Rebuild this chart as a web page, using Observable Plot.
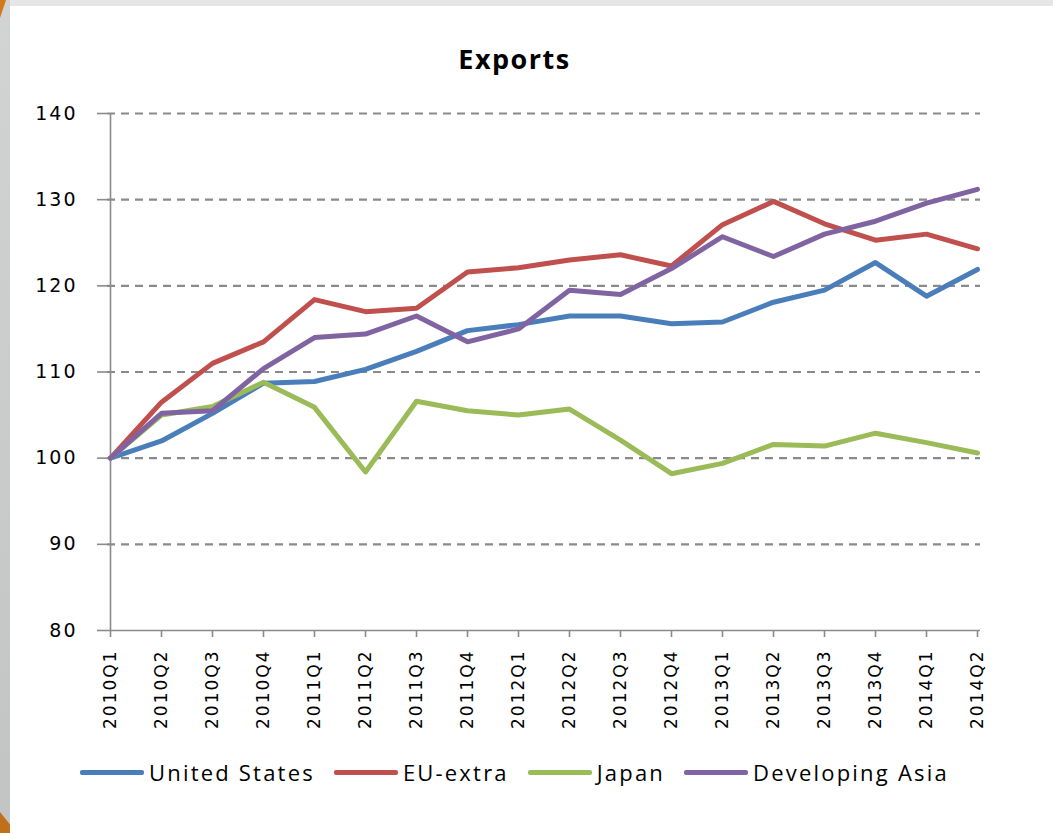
<!DOCTYPE html>
<html>
<head>
<meta charset="utf-8">
<script src="https://cdn.jsdelivr.net/npm/d3@7"></script>
<script src="https://cdn.jsdelivr.net/npm/@observablehq/plot@0.6"></script>
<style>
  html, body { margin: 0; padding: 0; }
  body { width: 1053px; height: 833px; position: relative; overflow: hidden; background: linear-gradient(to bottom, #d2d4d4, #c2c4c4); }
  #topband { position: absolute; left: 10px; top: 0; width: 1043px; height: 6px; background: #e6e6e6; }
  #orange1 { position: absolute; left: 0; top: 0; width: 6px; height: 18px; background: #d07a1c; clip-path: polygon(0 0, 100% 0, 0 100%); }
  #orange2 { position: absolute; left: 0; top: 812px; width: 10px; height: 21px; background: #c0701a; clip-path: polygon(0 0, 100% 60%, 100% 100%, 0 100%); }
  #panel { position: absolute; left: 10px; top: 6px; width: 1043px; height: 827px; background: #fff; }
  #title { position: absolute; left: -12px; width: 1053px; top: 40px; text-align: center; font-family: "Open Sans", sans-serif; font-weight: 700; font-size: 27px; letter-spacing: 1.5px; color: #000; }
  #chart { position: absolute; left: 0; top: 95px; }
  #legend { position: absolute; left: 80px; top: 757px; display: flex; align-items: center; font-family: "Open Sans", sans-serif; font-size: 22px; letter-spacing: 2.2px; color: #000; }
  .item { display: flex; align-items: center; margin-right: 19px; }
  .sw { display: inline-block; width: 64px; height: 5px; border-radius: 2px; margin-right: 5px; }
</style>
</head>
<body>
<div id="topband"></div>
<div id="orange1"></div>
<div id="orange2"></div>
<div id="panel"></div>
<div id="title">Exports</div>
<div id="chart"></div>
<div id="legend"></div>
<script>
const quarters = ["2010Q1","2010Q2","2010Q3","2010Q4","2011Q1","2011Q2","2011Q3","2011Q4","2012Q1","2012Q2","2012Q3","2012Q4","2013Q1","2013Q2","2013Q3","2013Q4","2014Q1","2014Q2"];
const seriesNames = ["United States","EU-extra","Japan","Developing Asia"];
const seriesColors = ["#4a7ebb","#c0504d","#9bbb59","#8064a2"];
const unitedStates = [100,102.0,105.2,108.7,108.9,110.3,112.4,114.8,115.5,116.5,116.5,115.6,115.8,118.1,119.5,122.7,118.8,121.9];
const euExtra = [100,106.5,111.0,113.5,118.4,117.0,117.4,121.6,122.1,123.0,123.6,122.3,127.1,129.8,127.2,125.3,126.0,124.3];
const japan = [100,105.0,106.0,108.8,105.9,98.4,106.6,105.5,105.0,105.7,102.1,98.2,99.4,101.6,101.4,102.9,101.8,100.6];
const developingAsia = [100,105.2,105.5,110.4,114.0,114.4,116.5,113.5,115.0,119.5,119.0,122.0,125.7,123.4,126.0,127.5,129.6,131.2];
const yTicks = [80,90,100,110,120,130,140];

const seriesValues = [unitedStates, euExtra, japan, developingAsia];
const tables = seriesValues.map((vals, i) => vals.map((v, j) => ({quarter: quarters[j], value: v, series: seriesNames[i]})));

const axisGray = "#8a8a8a";
const chart = Plot.plot({
  width: 1053,
  height: 660,
  marginLeft: 107,
  marginRight: 73,
  marginTop: 18,
  marginBottom: 125,
  style: {fontFamily: "DejaVu Sans, sans-serif", background: "transparent", color: "#000"},
  x: {type: "point", domain: quarters, padding: 0},
  y: {domain: [80, 140]},
  marks: [
    Plot.ruleY(yTicks.filter(d => d > 80), {stroke: "#8a8a8a", strokeWidth: 2.2, strokeDasharray: "8,6"}),
    Plot.ruleY([80], {stroke: axisGray, strokeWidth: 1.6}),
    Plot.ruleX([quarters[0]], {stroke: axisGray, strokeWidth: 1.6}),
    Plot.axisY({ticks: yTicks, tickSize: 10, tickPadding: 20, stroke: axisGray, strokeWidth: 1.6, fontSize: 19, label: null, tickFormat: d => String(d)}),
    Plot.axisX({tickRotate: -90, tickSize: 7, tickPadding: 12, stroke: axisGray, strokeWidth: 1.6, fontSize: 17, label: null}),
    ...tables.map((t, i) => Plot.line(t, {x: "quarter", y: "value", stroke: seriesColors[i], strokeWidth: 5, strokeLinejoin: "round", strokeLinecap: "round"}))
  ]
});
chart.querySelectorAll("text").forEach(t => t.style.letterSpacing = "2px");
document.getElementById("chart").appendChild(chart);

const legend = document.getElementById("legend");
seriesNames.forEach((name, i) => {
  const item = document.createElement("div");
  item.className = "item";
  const sw = document.createElement("span");
  sw.className = "sw";
  sw.style.background = seriesColors[i];
  const label = document.createElement("span");
  label.textContent = name;
  item.appendChild(sw);
  item.appendChild(label);
  legend.appendChild(item);
});
</script>
</body>
</html>
